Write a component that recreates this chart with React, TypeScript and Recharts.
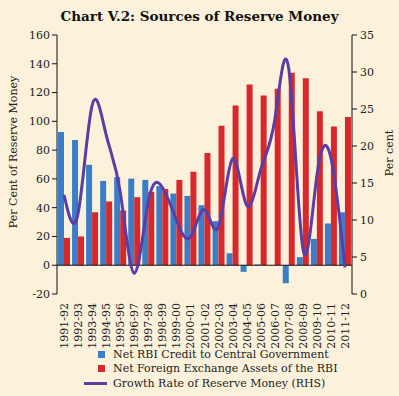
import { Bar, ComposedChart, Line, ReferenceLine, XAxis, YAxis } from 'recharts'

const years = [
  '1991-92', '1992-93', '1993-94', '1994-95', '1995-96', '1996-97', '1997-98',
  '1998-99', '1999-00', '2000-01', '2001-02', '2002-03', '2003-04', '2004-05',
  '2005-06', '2006-07', '2007-08', '2008-09', '2009-10', '2010-11', '2011-12',
]

// per cent of reserve money (left axis)
const netRbiCredit = [
  92.6, 87, 69.8, 58.6, 61.2, 60.2, 59.3, 55, 49.8, 48.2, 41.7,
  30.6, 8.3, -4.6, 0.5, 0, -12.5, 5.6, 18.3, 29, 36.8,
]
const netForexAssets = [
  19, 20, 36.8, 44.3, 38, 47.3, 51, 53, 59.3, 65, 78,
  97, 111, 125.6, 118, 122.6, 133.7, 130, 107, 96.4, 103,
]

// growth rate, per cent (right axis)
const reserveGrowth = [
  13.4, 10.9, 25.5, 21.5, 13.8, 2.8, 12.5, 14.4, 10, 7.7, 11.4,
  9.1, 18.3, 12, 16.8, 23.5, 30.4, 6.2, 16, 18.4, 3.6,
]

const leftTicks = [-20, 0, 20, 40, 60, 80, 100, 120, 140, 160]
const rightTicks = [0, 5, 10, 15, 20, 25, 30, 35]

const BLUE = '#3b7ec8'
const RED = '#d9282c'
const PURPLE = '#5a3ea3'
const BG = '#fcf2db'
const FONT = '"DejaVu Serif", serif'

const data = years.map((year, i) => ({
  year,
  credit: netRbiCredit[i],
  forex: netForexAssets[i],
  growth: reserveGrowth[i],
}))

const tickStyle = { fontSize: 11, fill: '#222', fontFamily: FONT }

function YearTick({ x, y, payload }: any) {
  return (
    <text
      x={x}
      y={y}
      dx={-1}
      dy={4}
      transform={`rotate(-90 ${x} ${y})`}
      textAnchor="end"
      {...tickStyle}
    >
      {payload.value}
    </text>
  )
}

const legendItems = [
  { label: 'Net RBI Credit to Central Government', color: BLUE, kind: 'box' },
  { label: 'Net Foreign Exchange Assets of the RBI', color: RED, kind: 'box' },
  { label: 'Growth Rate of Reserve Money (RHS)', color: PURPLE, kind: 'line' },
]

export default function App() {
  return (
    <div
      style={{
        position: 'absolute',
        left: 0,
        top: 0,
        width: 399,
        height: 396,
        background: BG,
        fontFamily: FONT,
        color: '#222',
        overflow: 'hidden',
      }}
    >
      <div
        style={{
          position: 'absolute',
          top: 8,
          width: 399,
          textAlign: 'center',
          fontSize: 13.5,
          fontWeight: 'bold',
          lineHeight: '16px',
          color: '#111',
        }}
      >
        Chart V.2: Sources of Reserve Money
      </div>

      <ComposedChart
        width={399}
        height={396}
        data={data}
        margin={{ top: 35, right: 0, bottom: 50, left: 0 }}
        barGap={0}
        barCategoryGap={1}
      >
        <XAxis
          dataKey="year"
          interval={0}
          height={52}
          axisLine={false}
          tickLine={false}
          tick={<YearTick />}
        />
        <YAxis
          yAxisId="left"
          width={57}
          domain={[-20, 160]}
          ticks={leftTicks}
          interval={0}
          tick={tickStyle}
          tickSize={5}
          tickMargin={2}
          axisLine={{ stroke: '#111' }}
          tickLine={{ stroke: '#111' }}
        />
        <YAxis
          yAxisId="right"
          orientation="right"
          width={47}
          domain={[0, 35]}
          ticks={rightTicks}
          interval={0}
          tick={{ ...tickStyle, textAnchor: 'start' }}
          tickSize={5}
          tickMargin={3}
          axisLine={{ stroke: '#111' }}
          tickLine={{ stroke: '#111' }}
        />
        <ReferenceLine yAxisId="left" y={0} stroke="#111" />
        <Bar yAxisId="left" dataKey="credit" fill={BLUE} isAnimationActive={false} />
        <Bar yAxisId="left" dataKey="forex" fill={RED} isAnimationActive={false} />
        <Line
          yAxisId="right"
          type="natural"
          dataKey="growth"
          stroke={PURPLE}
          strokeWidth={3}
          dot={false}
          activeDot={false}
          isAnimationActive={false}
        />
      </ComposedChart>

      <div
        style={{
          position: 'absolute',
          left: 13,
          top: 152,
          transform: 'translate(-50%, -50%) rotate(-90deg)',
          whiteSpace: 'nowrap',
          fontSize: 11,
        }}
      >
        Per Cent of Reserve Money
      </div>
      <div
        style={{
          position: 'absolute',
          left: 389,
          top: 153,
          transform: 'translate(-50%, -50%) rotate(-90deg)',
          whiteSpace: 'nowrap',
          fontSize: 11,
        }}
      >
        Per cent
      </div>

      {legendItems.map((item, i) => (
        <div
          key={item.label}
          style={{
            position: 'absolute',
            left: 84,
            top: 347 + i * 14.5,
            height: 14,
            display: 'flex',
            alignItems: 'center',
            fontSize: 11,
            whiteSpace: 'nowrap',
          }}
        >
          {item.kind === 'box' ? (
            <span
              style={{
                display: 'inline-block',
                width: 7,
                height: 7,
                marginLeft: 14,
                marginRight: 8,
                background: item.color,
              }}
            />
          ) : (
            <span
              style={{
                display: 'inline-block',
                width: 23,
                height: 3,
                marginRight: 6,
                background: item.color,
              }}
            />
          )}
          {item.label}
        </div>
      ))}
    </div>
  )
}
